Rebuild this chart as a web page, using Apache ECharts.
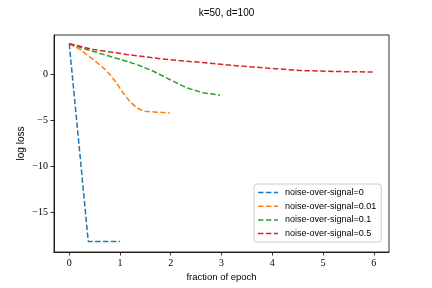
<!DOCTYPE html>
<html>
<head>
<meta charset="utf-8">
<script src="https://cdn.jsdelivr.net/npm/echarts@6/dist/echarts.min.js"></script>
<style>html,body{margin:0;padding:0;background:#fff}#c{width:432px;height:288px}</style>
</head>
<body>
<div id="c"></div>
<script>
const titleText = 'k=50, d=100';
const xLabel = 'fraction of epoch';
const yLabel = 'log loss';
const seriesNames = ['noise-over-signal=0', 'noise-over-signal=0.01', 'noise-over-signal=0.1', 'noise-over-signal=0.5'];
const colors = ['#1f77b4', '#ff7f0e', '#2ca02c', '#d62728'];
const xTicks = [0, 1, 2, 3, 4, 5, 6];
const yTicks = [-15, -10, -5, 0];

const noise0 = [[0, 3.3], [0.1, -2.4], [0.2, -8.1], [0.3, -13.9], [0.375, -18.2], [0.5, -18.22], [0.75, -18.22], [1.0, -18.22]];
const noise001 = [[0, 3.3], [0.21, 2.68], [0.47, 1.59], [0.67, 0.69], [0.8, -0.04], [0.93, -0.95], [1.06, -2.04], [1.19, -2.95], [1.33, -3.67], [1.49, -4.04], [1.72, -4.14], [1.98, -4.22]];
const noise01 = [[0, 3.3], [0.34, 2.68], [0.67, 2.14], [1.0, 1.6], [1.33, 1.05], [1.65, 0.33], [1.98, -0.59], [2.31, -1.49], [2.64, -2.04], [2.97, -2.29]];
const noise05 = [[0, 3.3], [0.47, 2.68], [1.13, 2.14], [1.79, 1.67], [2.44, 1.34], [3.23, 0.94], [3.89, 0.65], [4.54, 0.39], [5.2, 0.28], [5.98, 0.22]];
const allData = [noise0, noise001, noise01, noise05];

const dashIcon = 'path://M0,0h5.5v1.5h-5.5z M7.9,0h5.5v1.5h-5.5z M15.8,0h4.2v1.5h-4.2z';

const chart = echarts.init(document.getElementById('c'), null, {renderer: 'canvas'});
const sans = '"Liberation Sans", "DejaVu Sans", sans-serif';
const serif = '"Liberation Serif", "DejaVu Serif", serif';
chart.setOption({
  animation: false,
  backgroundColor: '#fff',
  title: {
    text: titleText, left: 221.5, top: 3, textAlign: 'center',
    textStyle: {fontFamily: sans, fontSize: 10, fontWeight: 'normal', color: '#000'}
  },
  grid: {left: 54, right: 43, top: 35, bottom: 36, show: true, borderColor: '#000', borderWidth: 0.8, backgroundColor: 'transparent'},
  legend: {
    orient: 'vertical', left: 254, top: 184, itemWidth: 20, itemHeight: 10, itemGap: 4.7,
    padding: [4, 5, 4, 4], symbolKeepAspect: true,
    backgroundColor: '#fff', borderColor: '#ccc', borderWidth: 1, borderRadius: 3,
    textStyle: {fontFamily: sans, fontSize: 9, color: '#000', padding: [0, 0, 0, 2]},
    data: seriesNames.map(n => ({name: n, icon: dashIcon}))
  },
  xAxis: {
    type: 'value', min: -0.3, max: 6.3,
    name: xLabel, nameLocation: 'middle', nameGap: 20, nameMoveOverlap: false,
    nameTextStyle: {fontFamily: sans, fontSize: 9.5, color: '#000'},
    axisLine: {show: true, onZero: false, lineStyle: {color: '#000', width: 0.8}},
    axisTick: {show: true, inside: false, length: 3.5, lineStyle: {color: '#000', width: 0.8}, customValues: xTicks},
    axisLabel: {margin: 6, fontFamily: serif, fontSize: 10, color: '#000', customValues: xTicks,
      formatter: v => String(v).replace('-', '\u2212')},
    splitLine: {show: false}
  },
  yAxis: {
    type: 'value', min: -19.35, max: 4.25,
    name: yLabel, nameLocation: 'middle', nameGap: 28, nameRotate: 90, nameMoveOverlap: false,
    nameTextStyle: {fontFamily: sans, fontSize: 10, color: '#000'},
    axisLine: {show: true, onZero: false, lineStyle: {color: '#000', width: 0.8}},
    axisTick: {show: true, inside: false, length: 3.5, lineStyle: {color: '#000', width: 0.8}, customValues: yTicks},
    axisLabel: {margin: 6, fontFamily: serif, fontSize: 10, color: '#000', customValues: yTicks,
      formatter: v => String(v).replace('-', '\u2212')},
    splitLine: {show: false}
  },
  series: allData.map((d, i) => ({
    name: seriesNames[i], type: 'line', data: d, smooth: false,
    showSymbol: false, symbol: 'none',
    lineStyle: {color: colors[i], width: 1.5, type: [5.5, 2.4]},
    itemStyle: {color: colors[i]}
  }))
});
</script>
</body>
</html>
